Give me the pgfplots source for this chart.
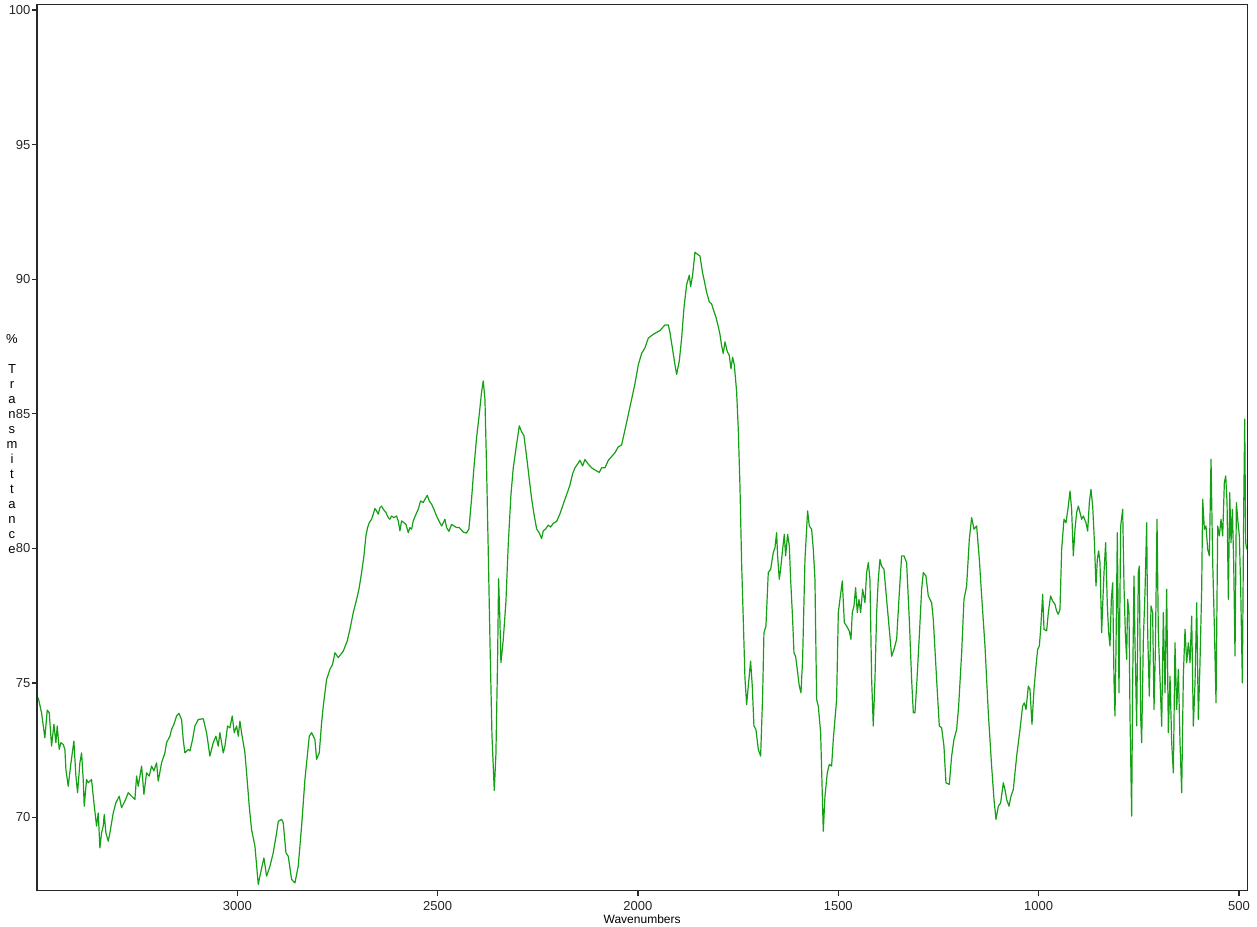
\documentclass[border=0pt]{standalone}
\usepackage{fontspec}
\setmainfont{Liberation Sans}
\usepackage{pgfplots}
\pgfplotsset{compat=1.18}
\definecolor{irgreen}{RGB}{20,160,20}
\definecolor{axisgray}{RGB}{40,40,40}

\begin{document}
\begin{tikzpicture}
\begin{axis}[
  scale only axis, width=1210.3pt, height=886.1pt,
  x dir=reverse, xmin=479, xmax=3500, ymin=67.28, ymax=100.2,
  xtick={500,1000,...,3000}, ytick={70,75,...,100},
  tick pos=left, tick align=outside, major tick length=5pt,
  axis line style={axisgray, line width=1.4pt},
  major tick style={axisgray, line width=1.2pt},
  tick label style={font=\fontsize{13}{15}\selectfont, text=black!85},
  /pgf/number format/assume math mode=true,
  /pgf/number format/1000 sep={},
  xticklabel style={yshift=-2pt},
  yticklabel style={xshift=2pt},
  clip mode=individual,
]
\addplot[irgreen, line width=1.2pt, line join=round] table {
3496.9 74.45
3488.6 73.89
3480.3 72.96
3474.4 73.99
3469.4 73.89
3463.6 72.65
3457.8 73.46
3452.8 72.78
3449.5 73.40
3444.5 72.53
3440.3 72.78
3434.5 72.71
3430.3 72.53
3427.8 71.78
3422.0 71.16
3416.2 71.91
3407.9 72.84
3402.9 71.54
3398.7 70.92
3392.9 72.03
3388.7 72.40
3384.6 71.41
3382.1 70.42
3376.3 71.41
3372.1 71.29
3363.8 71.41
3357.9 70.55
3351.3 69.68
3347.1 70.17
3343.0 68.87
3338.8 69.43
3334.7 69.68
3332.1 70.11
3328.0 69.43
3322.2 69.12
3318.0 69.43
3309.7 70.17
3303.0 70.55
3294.7 70.79
3288.9 70.36
3280.6 70.61
3272.2 70.92
3263.9 70.79
3255.6 70.67
3251.4 71.54
3247.3 71.16
3238.9 71.91
3233.1 70.86
3226.5 71.66
3219.8 71.54
3214.0 71.91
3208.2 71.73
3201.5 72.03
3197.4 71.35
3189.0 72.03
3180.7 72.40
3176.6 72.78
3168.2 73.02
3164.1 73.27
3158.2 73.46
3151.6 73.77
3145.8 73.87
3139.1 73.64
3135.0 72.90
3130.8 72.40
3122.5 72.53
3118.3 72.47
3111.6 72.90
3105.8 73.40
3097.5 73.64
3085.0 73.67
3076.7 73.15
3068.4 72.28
3060.1 72.78
3053.4 73.02
3047.6 72.65
3043.4 73.15
3035.1 72.40
3030.9 72.65
3024.3 73.40
3018.5 73.33
3012.6 73.77
3007.6 73.15
3001.8 73.40
2997.6 73.02
2993.5 73.58
2989.3 73.15
2981.0 72.40
2976.8 71.66
2970.2 70.42
2964.4 69.55
2956.0 68.94
2947.7 67.51
2941.9 67.94
2933.6 68.50
2926.9 67.82
2918.6 68.19
2910.3 68.69
2901.9 69.43
2897.8 69.86
2889.5 69.93
2885.3 69.80
2878.6 68.69
2872.8 68.56
2864.5 67.70
2856.2 67.57
2847.9 68.19
2839.5 69.68
2831.2 71.41
2820.4 73.02
2814.6 73.15
2806.3 72.90
2802.1 72.16
2795.4 72.40
2789.6 73.52
2785.4 74.14
2777.1 75.13
2768.8 75.50
2762.2 75.69
2756.3 76.12
2748.0 75.94
2735.5 76.18
2725.6 76.56
2718.9 76.99
2710.6 77.61
2702.2 78.10
2695.6 78.54
2689.8 79.10
2684.0 79.71
2679.0 80.46
2674.8 80.77
2670.7 80.95
2664.9 81.08
2660.7 81.27
2656.5 81.48
2652.4 81.39
2648.2 81.27
2644.0 81.51
2639.9 81.57
2635.7 81.45
2629.1 81.33
2623.2 81.14
2619.1 81.08
2614.9 81.20
2609.1 81.14
2602.5 81.20
2598.3 81.02
2594.1 80.65
2590.0 81.02
2584.1 80.95
2579.1 80.89
2573.3 80.58
2569.2 80.77
2565.0 80.71
2560.8 81.02
2554.2 81.26
2548.4 81.45
2542.5 81.76
2535.9 81.70
2531.7 81.82
2525.9 81.97
2520.9 81.76
2515.1 81.64
2509.2 81.45
2502.6 81.20
2496.8 81.02
2490.1 80.83
2486.0 80.95
2481.8 81.08
2477.6 80.77
2471.8 80.63
2465.2 80.89
2459.3 80.83
2452.7 80.77
2446.0 80.77
2436.0 80.60
2427.7 80.57
2421.9 80.72
2415.2 81.85
2409.4 82.99
2402.7 84.12
2396.1 84.97
2390.2 85.82
2386.1 86.22
2381.9 85.54
2377.8 82.99
2373.6 79.87
2369.4 76.60
2364.4 73.06
2358.6 71.00
2354.5 72.35
2350.3 75.89
2347.8 78.87
2344.5 77.31
2342.0 75.75
2336.2 76.60
2329.5 78.02
2323.7 80.15
2317.0 81.99
2311.2 82.99
2304.5 83.70
2296.2 84.55
2290.4 84.33
2284.6 84.19
2277.9 83.41
2271.2 82.56
2265.4 81.85
2259.6 81.28
2252.9 80.72
2246.3 80.57
2240.4 80.36
2236.3 80.65
2230.5 80.72
2223.8 80.86
2218.0 80.79
2211.3 80.93
2203.0 81.00
2194.7 81.28
2186.4 81.64
2178.1 81.99
2169.7 82.35
2163.1 82.77
2157.2 82.99
2150.6 83.13
2144.8 83.27
2138.1 83.06
2132.3 83.30
2124.0 83.13
2115.6 82.99
2107.3 82.91
2096.5 82.82
2090.7 82.99
2082.3 82.99
2074.0 83.27
2065.7 83.41
2057.4 83.55
2049.1 83.77
2040.8 83.84
2032.4 84.40
2024.1 84.97
2015.8 85.54
2007.5 86.11
1999.1 86.82
1990.8 87.24
1982.5 87.45
1974.2 87.81
1961.7 87.95
1953.4 88.02
1945.1 88.09
1932.6 88.30
1924.2 88.30
1920.1 88.02
1913.4 87.38
1907.6 86.82
1903.4 86.46
1896.8 86.96
1890.9 87.81
1885.1 88.94
1878.5 89.79
1871.8 90.15
1868.5 89.72
1863.5 90.15
1857.7 91.00
1851.9 90.93
1845.2 90.86
1838.5 90.22
1834.4 89.94
1828.6 89.51
1821.9 89.16
1816.1 89.08
1811.9 88.87
1805.3 88.59
1799.4 88.23
1795.3 87.95
1791.1 87.52
1787.0 87.24
1782.8 87.67
1777.0 87.31
1772.0 87.17
1767.8 86.67
1763.7 87.10
1759.5 86.82
1753.7 85.82
1749.5 84.40
1745.3 82.27
1741.2 79.44
1737.0 77.31
1732.9 75.18
1728.7 74.19
1724.6 74.88
1718.8 75.81
1714.6 74.88
1710.5 73.40
1705.5 73.27
1699.6 72.53
1693.8 72.28
1688.8 74.51
1685.5 76.86
1680.5 77.11
1674.7 79.10
1668.8 79.22
1662.2 79.84
1658.0 80.02
1653.9 80.58
1651.4 79.72
1647.2 78.85
1643.9 79.22
1638.9 79.96
1634.7 80.52
1631.4 79.72
1626.4 80.52
1622.2 80.09
1618.9 78.85
1613.9 77.36
1610.6 76.12
1606.4 75.98
1602.3 75.50
1597.3 74.88
1593.1 74.63
1589.0 75.87
1583.1 79.59
1576.5 81.39
1572.3 80.83
1566.5 80.71
1562.3 79.96
1558.2 78.85
1554.0 74.39
1549.8 74.14
1544.0 73.15
1537.4 69.49
1533.2 70.79
1527.4 71.66
1522.4 71.97
1516.6 71.91
1512.4 72.90
1504.1 74.39
1499.9 77.61
1495.8 78.10
1489.9 78.79
1484.9 77.24
1479.1 77.11
1472.5 76.93
1468.3 76.62
1465.0 77.61
1460.8 77.86
1456.7 78.54
1452.5 77.61
1448.3 78.10
1444.2 77.61
1439.2 78.48
1433.4 77.98
1429.2 79.10
1425.0 79.47
1420.9 78.85
1416.7 75.13
1412.6 73.40
1408.4 75.13
1404.2 77.61
1400.1 78.85
1395.9 79.59
1391.8 79.34
1385.9 79.22
1379.3 78.10
1372.6 76.99
1366.8 75.99
1361.0 76.24
1354.3 76.62
1347.6 78.35
1341.8 79.72
1336.0 79.72
1329.4 79.47
1322.7 77.36
1316.9 75.13
1312.7 73.89
1308.5 73.89
1304.4 74.88
1297.7 76.74
1291.9 78.48
1287.8 79.10
1281.1 78.97
1275.3 78.23
1267.0 77.98
1262.8 77.36
1254.5 75.13
1247.8 73.40
1242.0 73.33
1236.2 72.65
1231.2 71.29
1222.8 71.23
1217.0 72.28
1211.2 72.90
1204.5 73.27
1199.5 74.14
1192.0 76.12
1186.2 78.10
1179.6 78.60
1172.9 80.33
1167.1 81.14
1161.2 80.71
1154.6 80.83
1147.9 79.59
1142.1 78.23
1133.8 76.37
1125.5 73.89
1117.2 71.91
1111.3 70.67
1106.3 69.93
1100.5 70.42
1094.7 70.54
1088.0 71.29
1083.9 71.04
1079.7 70.67
1073.9 70.42
1068.9 70.79
1063.1 71.04
1054.7 72.28
1046.4 73.27
1039.8 74.14
1035.6 74.26
1031.4 74.01
1025.6 74.88
1021.5 74.76
1016.5 73.46
1011.5 74.76
1006.5 75.62
1002.3 76.24
998.2 76.37
994.8 76.99
989.8 78.29
986.5 76.99
979.9 76.93
975.7 77.61
970.0 78.23
964.9 78.04
959.1 77.92
955.0 77.67
950.8 77.55
946.6 77.73
942.4 79.96
936.6 81.08
931.6 80.95
925.8 81.57
921.6 82.13
917.5 81.45
913.3 79.72
909.1 80.71
905.0 81.33
900.8 81.57
896.7 81.33
892.5 81.08
888.3 81.20
881.7 80.95
877.5 80.64
873.3 81.70
869.2 82.19
865.0 81.57
860.9 80.33
856.7 78.60
853.4 79.59
850.1 79.90
846.7 79.47
842.6 76.87
840.1 77.86
836.7 79.10
832.6 80.21
828.4 77.86
825.1 76.87
821.8 76.37
818.4 78.10
815.1 78.72
811.8 75.13
809.3 73.77
806.8 76.25
803.5 80.58
799.3 74.63
795.1 80.83
790.1 81.45
786.8 78.60
783.5 76.87
780.2 75.87
777.7 78.10
774.3 77.61
771.8 73.77
767.7 70.05
765.2 75.00
761.9 78.97
759.4 76.49
755.2 73.40
751.0 79.10
748.5 79.34
745.2 73.77
742.7 72.78
738.5 76.62
734.4 78.35
730.2 80.95
727.7 76.87
723.6 74.51
719.4 77.86
715.3 77.61
711.9 74.01
708.6 76.12
704.4 81.08
701.1 76.87
692.7 73.39
688.6 77.61
684.4 74.63
680.3 78.48
676.1 73.15
671.9 75.25
667.8 72.78
663.6 71.66
659.5 76.49
655.3 74.01
651.1 75.50
647.0 72.78
642.8 70.92
638.7 75.25
634.5 76.99
630.3 75.75
626.2 76.49
622.0 75.75
617.9 77.48
613.7 73.39
609.5 75.00
605.4 77.98
601.2 73.64
597.1 75.75
592.9 78.48
590.4 81.82
586.2 80.71
582.1 80.83
577.9 79.96
573.7 79.72
569.6 83.31
565.4 79.47
561.3 77.11
557.1 74.26
552.9 80.83
548.8 80.46
544.6 81.08
540.5 80.46
536.3 82.44
532.9 82.69
529.6 81.70
526.3 78.10
522.9 82.07
519.7 80.21
516.3 81.45
513.0 79.47
509.7 76.00
506.3 81.70
502.2 80.95
498.9 80.46
495.5 78.48
491.4 75.00
488.0 81.45
485.5 84.80
483.1 80.21
480.5 79.96
};
\coordinate (bl) at (rel axis cs:0,0);
% stacked axis title, one letter per line
\node[anchor=base, font=\fontsize{13}{15}\selectfont, xshift=-25pt, yshift=546.8pt] at (rel axis cs:0,0) {\%};
\node[anchor=base, font=\fontsize{13}{15}\selectfont, xshift=-25pt, yshift=516.9pt] at (rel axis cs:0,0) {T};
\node[anchor=base, font=\fontsize{13}{15}\selectfont, xshift=-25pt, yshift=501.9pt] at (rel axis cs:0,0) {r};
\node[anchor=base, font=\fontsize{13}{15}\selectfont, xshift=-25pt, yshift=487.0pt] at (rel axis cs:0,0) {a};
\node[anchor=base, font=\fontsize{13}{15}\selectfont, xshift=-25pt, yshift=472.0pt] at (rel axis cs:0,0) {n};
\node[anchor=base, font=\fontsize{13}{15}\selectfont, xshift=-25pt, yshift=457.1pt] at (rel axis cs:0,0) {s};
\node[anchor=base, font=\fontsize{13}{15}\selectfont, xshift=-25pt, yshift=442.1pt] at (rel axis cs:0,0) {m};
\node[anchor=base, font=\fontsize{13}{15}\selectfont, xshift=-25pt, yshift=427.1pt] at (rel axis cs:0,0) {i};
\node[anchor=base, font=\fontsize{13}{15}\selectfont, xshift=-25pt, yshift=412.2pt] at (rel axis cs:0,0) {t};
\node[anchor=base, font=\fontsize{13}{15}\selectfont, xshift=-25pt, yshift=397.2pt] at (rel axis cs:0,0) {t};
\node[anchor=base, font=\fontsize{13}{15}\selectfont, xshift=-25pt, yshift=382.3pt] at (rel axis cs:0,0) {a};
\node[anchor=base, font=\fontsize{13}{15}\selectfont, xshift=-25pt, yshift=367.3pt] at (rel axis cs:0,0) {n};
\node[anchor=base, font=\fontsize{13}{15}\selectfont, xshift=-25pt, yshift=352.4pt] at (rel axis cs:0,0) {c};
\node[anchor=base, font=\fontsize{13}{15}\selectfont, xshift=-25pt, yshift=337.4pt] at (rel axis cs:0,0) {e};
\node[anchor=base, font=\fontsize{12}{14}\selectfont, yshift=-33pt] at (rel axis cs:0.5,0) {Wavenumbers};
\end{axis}
\pgfresetboundingbox
\path[use as bounding box] ([shift={(-37pt,-35.3pt)}]bl) rectangle ([shift={(1220pt,890.7pt)}]bl);
\end{tikzpicture}
\end{document}
